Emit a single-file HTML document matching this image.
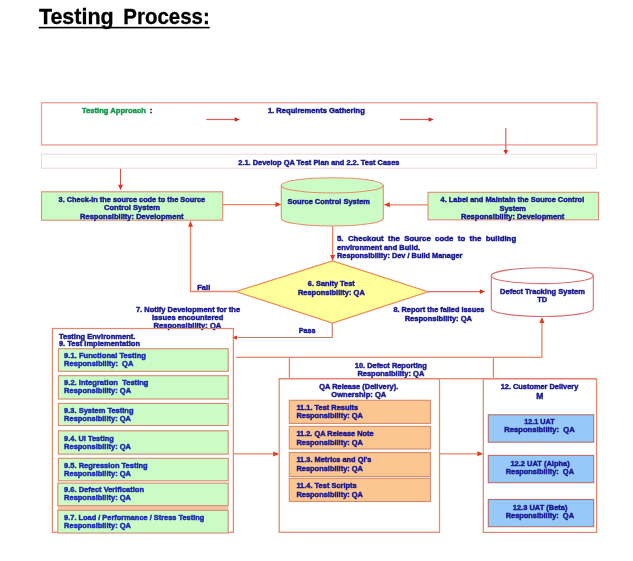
<!DOCTYPE html>
<html><head><meta charset="utf-8"><style>
html,body{margin:0;padding:0;background:#fff;width:633px;height:561px;overflow:hidden}
svg{display:block;will-change:transform}
text{font-family:"Liberation Sans",sans-serif;font-weight:bold;font-size:8.0px;fill:#1a1a92;stroke:#1a1a92;stroke-width:0.5}
</style></head><body>
<svg width="633" height="561" viewBox="0 0 633 561">
<text x="38.9" y="24.3" textLength="74.8" lengthAdjust="spacingAndGlyphs" style="font-size:22.4px;fill:#000;stroke:#000;stroke-width:0.3">Testing</text>
<text x="123.3" y="24.3" textLength="86.5" lengthAdjust="spacingAndGlyphs" style="font-size:22.4px;fill:#000;stroke:#000;stroke-width:0.3">Process:</text>
<rect x="38.7" y="26.8" width="171" height="1.6" fill="#000"/>
<rect x="41.5" y="102.7" width="555.50" height="42.20" fill="none" stroke="#f29a96" stroke-width="1.3"/>
<text x="82.00" y="113.26" textLength="63.80" lengthAdjust="spacingAndGlyphs" style="fill:#1a9a50;stroke:#1a9a50" xml:space="preserve">Testing Approach</text>
<text x="149.80" y="113.26" textLength="2.49" lengthAdjust="spacingAndGlyphs" style="fill:#222;stroke:#222" xml:space="preserve">:</text>
<text x="267.90" y="113.26" textLength="97.00" lengthAdjust="spacingAndGlyphs" xml:space="preserve">1. Requirements Gathering</text>
<polyline points="206.3,119.5 235,119.5" fill="none" stroke="#cc6060" stroke-width="1.2"/>
<polygon points="239.90,119.50 234.70,117.20 234.70,121.80" fill="#e02420"/>
<polyline points="400,119.5 429,119.5" fill="none" stroke="#cc6060" stroke-width="1.2"/>
<polygon points="433.80,119.50 428.60,117.20 428.60,121.80" fill="#e02420"/>
<polyline points="505.8,127.9 505.8,150" fill="none" stroke="#cc6a6a" stroke-width="1.2"/>
<polygon points="505.80,155.10 503.50,149.90 508.10,149.90" fill="#e02c1a"/>
<rect x="41.5" y="154.2" width="555.00" height="14.00" fill="none" stroke="#ecd6d2" stroke-width="1"/>
<text x="238.30" y="164.86" textLength="161.20" lengthAdjust="spacingAndGlyphs" xml:space="preserve">2.1. Develop QA Test Plan and 2.2. Test Cases</text>
<polyline points="120.5,168.8 120.5,186" fill="none" stroke="#c85848" stroke-width="1.1"/>
<polygon points="120.50,190.00 118.00,184.80 123.00,184.80" fill="#e0301a"/>
<rect x="41.5" y="191.8" width="181.20" height="28.40" fill="#cbfcc6" stroke="#e08c74" stroke-width="1.1"/>
<text x="58.60" y="202.26" textLength="146.60" lengthAdjust="spacingAndGlyphs" xml:space="preserve">3. Check-in the source code to the Source</text>
<text x="104.00" y="210.36" textLength="56.00" lengthAdjust="spacingAndGlyphs" xml:space="preserve">Control System</text>
<text x="80.00" y="218.86" textLength="103.50" lengthAdjust="spacingAndGlyphs" xml:space="preserve">Responsibility: Development</text>
<rect x="428" y="192.3" width="170.50" height="27.50" fill="#cbfcc6" stroke="#e08c74" stroke-width="1.1"/>
<text x="440.60" y="202.26" textLength="143.60" lengthAdjust="spacingAndGlyphs" xml:space="preserve">4. Label and Maintain the Source Control</text>
<text x="499.50" y="210.76" textLength="26.50" lengthAdjust="spacingAndGlyphs" xml:space="preserve">System</text>
<text x="461.00" y="219.26" textLength="103.30" lengthAdjust="spacingAndGlyphs" xml:space="preserve">Responsibility: Development</text>
<polyline points="222.7,204.6 276,204.6" fill="none" stroke="#ea8464" stroke-width="1.3"/>
<polygon points="281.40,204.60 275.40,202.10 275.40,207.10" fill="#e03c1c"/>
<polyline points="428,204.8 389,204.8" fill="none" stroke="#ea8464" stroke-width="1.3"/>
<polygon points="383.80,204.80 389.80,202.30 389.80,207.30" fill="#e03c1c"/>
<path d="M281.3,185.4 L281.3,218.5 A51,7.5 0 0 0 383.3,218.5 L383.3,185.4 A51,7.6 0 0 0 281.3,185.4 Z" fill="#cbfcc6" stroke="#e8906a" stroke-width="1.1"/>
<path d="M281.3,185.4 A51,7.6 0 0 0 383.3,185.4" fill="none" stroke="#e8906a" stroke-width="1.1"/>
<text x="287.50" y="204.06" textLength="82.50" lengthAdjust="spacingAndGlyphs" xml:space="preserve">Source Control System</text>
<polyline points="332.6,226 332.6,255.5" fill="none" stroke="#ea8464" stroke-width="1.3"/>
<polygon points="332.60,261.00 330.10,255.00 335.10,255.00" fill="#e03c1c"/>
<text x="337.00" y="241.46" textLength="179.20" lengthAdjust="spacingAndGlyphs" xml:space="preserve">5.  Checkout  the  Source  code  to  the  building</text>
<text x="337.00" y="249.96" textLength="83.11" lengthAdjust="spacingAndGlyphs" xml:space="preserve">environment and Build.</text>
<text x="337.00" y="258.46" textLength="125.40" lengthAdjust="spacingAndGlyphs" xml:space="preserve">Responsibility: Dev / Build Manager</text>
<polygon points="236,291.5 332.5,261 428,291.8 332.5,323" fill="#ffff99" stroke="#ec8a58" stroke-width="1.2"/>
<text x="307.80" y="285.86" textLength="46.90" lengthAdjust="spacingAndGlyphs" xml:space="preserve">6. Sanity Test</text>
<text x="297.90" y="294.56" textLength="66.90" lengthAdjust="spacingAndGlyphs" xml:space="preserve">Responsibility: QA</text>
<polyline points="236,291.5 190.5,291.5 190.5,226" fill="none" stroke="#ea8464" stroke-width="1.3"/>
<polygon points="190.50,220.70 188.00,226.70 193.00,226.70" fill="#e03c1c"/>
<text x="197.20" y="289.86" textLength="13.10" lengthAdjust="spacingAndGlyphs" xml:space="preserve">Fail</text>
<polyline points="332.3,323 332.3,337.5 236,337.5" fill="none" stroke="#c8806e" stroke-width="1.2"/>
<polygon points="232.00,337.60 237.00,335.40 237.00,339.80" fill="#e03c1c"/>
<text x="298.80" y="332.86" textLength="16.80" lengthAdjust="spacingAndGlyphs" xml:space="preserve">Pass</text>
<polyline points="428,291.6 480,291.6" fill="none" stroke="#d46a6a" stroke-width="1.2"/>
<polygon points="485.00,291.60 479.80,289.20 479.80,294.00" fill="#e02a1a"/>
<path d="M491.3,275.7 L491.3,308.5 A51,8 0 0 0 593.3,308.5 L593.3,275.7 A51,7.9 0 0 0 491.3,275.7 Z" fill="#fff" stroke="#dc6e70" stroke-width="1.1"/>
<path d="M491.3,275.7 A51,7.9 0 0 0 593.3,275.7" fill="none" stroke="#dc6e70" stroke-width="1.1"/>
<text x="500.00" y="293.66" textLength="85.00" lengthAdjust="spacingAndGlyphs" xml:space="preserve">Defect Tracking System</text>
<text x="537.31" y="301.86" textLength="9.97" lengthAdjust="spacingAndGlyphs" xml:space="preserve">TD</text>
<text x="135.90" y="311.56" textLength="104.20" lengthAdjust="spacingAndGlyphs" xml:space="preserve">7. Notify Development for the</text>
<text x="152.00" y="319.96" textLength="71.30" lengthAdjust="spacingAndGlyphs" xml:space="preserve">Issues encountered</text>
<text x="153.60" y="328.16" textLength="67.70" lengthAdjust="spacingAndGlyphs" xml:space="preserve">Responsibility: QA</text>
<text x="393.40" y="311.96" textLength="90.90" lengthAdjust="spacingAndGlyphs" xml:space="preserve">8. Report the failed Issues</text>
<text x="404.70" y="320.56" textLength="67.30" lengthAdjust="spacingAndGlyphs" xml:space="preserve">Responsibility: QA</text>
<polyline points="236,357.4 541.9,357.4 541.9,322.5" fill="none" stroke="#ea8464" stroke-width="1.3"/>
<polygon points="541.90,317.00 539.40,323.00 544.40,323.00" fill="#e03c1c"/>
<polyline points="289.4,357.4 289.4,378.7" fill="none" stroke="#ea8464" stroke-width="1.3"/>
<polyline points="493.4,357.4 493.4,378.7" fill="none" stroke="#ea8464" stroke-width="1.3"/>
<polyline points="279.2,378.7 596.6,378.7" fill="none" stroke="#ea8464" stroke-width="1.3"/>
<text x="354.80" y="368.26" textLength="72.10" lengthAdjust="spacingAndGlyphs" xml:space="preserve">10. Defect Reporting</text>
<text x="357.40" y="375.76" textLength="66.90" lengthAdjust="spacingAndGlyphs" xml:space="preserve">Responsibility: QA</text>
<rect x="52.4" y="328.5" width="181.00" height="203.80" fill="none" stroke="#e2886e" stroke-width="1.25"/>
<text x="58.90" y="338.50" textLength="76.50" lengthAdjust="spacingAndGlyphs" xml:space="preserve">Testing Environment.</text>
<text x="58.90" y="346.30" textLength="81.10" lengthAdjust="spacingAndGlyphs" xml:space="preserve">9. Test Implementation</text>
<rect x="57.8" y="505.7" width="170.4" height="4.6" fill="#f6c4a4"/>
<rect x="58.4" y="348.7" width="169.80" height="22.60" fill="#cbfcc6" stroke="#d48a6c" stroke-width="1.1"/>
<rect x="58.4" y="375.7" width="169.80" height="23.30" fill="#cbfcc6" stroke="#d48a6c" stroke-width="1.1"/>
<rect x="58.4" y="403.4" width="169.80" height="22.10" fill="#cbfcc6" stroke="#d48a6c" stroke-width="1.1"/>
<rect x="58.4" y="430.8" width="169.80" height="23.30" fill="#cbfcc6" stroke="#d48a6c" stroke-width="1.1"/>
<rect x="58.4" y="458.3" width="169.80" height="22.50" fill="#cbfcc6" stroke="#d48a6c" stroke-width="1.1"/>
<rect x="57.8" y="483.1" width="170.40" height="22.60" fill="#cbfcc6" stroke="#d48a6c" stroke-width="1.1"/>
<rect x="57.8" y="510.3" width="170.40" height="22.70" fill="#cbfcc6" stroke="#d48a6c" stroke-width="1.1"/>
<text x="64.10" y="358.00" textLength="81.90" lengthAdjust="spacingAndGlyphs" style="fill:#1d2ab2;stroke:#1d2ab2" xml:space="preserve">9.1. Functional Testing</text>
<text x="64.10" y="366.00" textLength="69.30" lengthAdjust="spacingAndGlyphs" style="fill:#1d2ab2;stroke:#1d2ab2" xml:space="preserve">Responsibility:  QA</text>
<text x="64.10" y="385.30" textLength="84.40" lengthAdjust="spacingAndGlyphs" style="fill:#1d2ab2;stroke:#1d2ab2" xml:space="preserve">9.2. Integration  Testing</text>
<text x="64.10" y="393.30" textLength="67.00" lengthAdjust="spacingAndGlyphs" style="fill:#1d2ab2;stroke:#1d2ab2" xml:space="preserve">Responsibility: QA</text>
<text x="64.10" y="413.10" textLength="69.40" lengthAdjust="spacingAndGlyphs" style="fill:#1d2ab2;stroke:#1d2ab2" xml:space="preserve">9.3. System Testing</text>
<text x="64.10" y="421.10" textLength="66.80" lengthAdjust="spacingAndGlyphs" style="fill:#1d2ab2;stroke:#1d2ab2" xml:space="preserve">Responsibility: QA</text>
<text x="64.10" y="440.60" textLength="49.70" lengthAdjust="spacingAndGlyphs" style="fill:#1d2ab2;stroke:#1d2ab2" xml:space="preserve">9.4. UI Testing</text>
<text x="64.10" y="448.60" textLength="66.80" lengthAdjust="spacingAndGlyphs" style="fill:#1d2ab2;stroke:#1d2ab2" xml:space="preserve">Responsibility: QA</text>
<text x="64.10" y="468.10" textLength="83.60" lengthAdjust="spacingAndGlyphs" style="fill:#1d2ab2;stroke:#1d2ab2" xml:space="preserve">9.5. Regression Testing</text>
<text x="64.10" y="476.10" textLength="66.80" lengthAdjust="spacingAndGlyphs" style="fill:#1d2ab2;stroke:#1d2ab2" xml:space="preserve">Responsibility: QA</text>
<text x="64.10" y="492.40" textLength="79.90" lengthAdjust="spacingAndGlyphs" style="fill:#1d2ab2;stroke:#1d2ab2" xml:space="preserve">9.6. Defect Verification</text>
<text x="64.10" y="500.40" textLength="66.80" lengthAdjust="spacingAndGlyphs" style="fill:#1d2ab2;stroke:#1d2ab2" xml:space="preserve">Responsibility: QA</text>
<text x="64.10" y="520.20" textLength="140.20" lengthAdjust="spacingAndGlyphs" style="fill:#1d2ab2;stroke:#1d2ab2" xml:space="preserve">9.7. Load / Performance / Stress Testing</text>
<text x="64.10" y="528.20" textLength="66.80" lengthAdjust="spacingAndGlyphs" style="fill:#1d2ab2;stroke:#1d2ab2" xml:space="preserve">Responsibility: QA</text>
<polyline points="233.5,453.9 273.5,453.9" fill="none" stroke="#ea8464" stroke-width="1.3"/>
<polygon points="279.20,453.90 273.20,451.40 273.20,456.40" fill="#e03c1c"/>
<rect x="279.2" y="378.7" width="160.30" height="153.60" fill="none" stroke="#e2886e" stroke-width="1.25"/>
<text x="319.20" y="388.60" textLength="79.10" lengthAdjust="spacingAndGlyphs" xml:space="preserve">QA Release (Delivery).</text>
<text x="331.30" y="397.20" textLength="54.90" lengthAdjust="spacingAndGlyphs" xml:space="preserve">Ownership: QA</text>
<rect x="289.3" y="400.3" width="141.20" height="23.10" fill="#fcc690" stroke="#d48a6c" stroke-width="1.1"/>
<rect x="289.3" y="426.4" width="141.20" height="22.60" fill="#fcc690" stroke="#d48a6c" stroke-width="1.1"/>
<rect x="289.3" y="452.5" width="141.20" height="24.00" fill="#fcc690" stroke="#d48a6c" stroke-width="1.1"/>
<rect x="289.3" y="478.3" width="141.20" height="23.20" fill="#fcc690" stroke="#d48a6c" stroke-width="1.1"/>
<text x="296.40" y="409.80" textLength="61.80" lengthAdjust="spacingAndGlyphs" xml:space="preserve">11.1. Test Results</text>
<text x="296.40" y="418.10" textLength="66.60" lengthAdjust="spacingAndGlyphs" xml:space="preserve">Responsibility: QA</text>
<text x="296.40" y="436.20" textLength="77.30" lengthAdjust="spacingAndGlyphs" xml:space="preserve">11.2. QA Release Note</text>
<text x="296.40" y="444.50" textLength="66.60" lengthAdjust="spacingAndGlyphs" xml:space="preserve">Responsibility: QA</text>
<text x="296.40" y="462.40" textLength="75.00" lengthAdjust="spacingAndGlyphs" xml:space="preserve">11.3. Metrics and QI's</text>
<text x="296.40" y="470.70" textLength="66.60" lengthAdjust="spacingAndGlyphs" xml:space="preserve">Responsibility: QA</text>
<text x="296.40" y="488.20" textLength="60.30" lengthAdjust="spacingAndGlyphs" xml:space="preserve">11.4. Test Scripts</text>
<text x="296.40" y="496.50" textLength="66.60" lengthAdjust="spacingAndGlyphs" xml:space="preserve">Responsibility: QA</text>
<polyline points="439.5,453.8 477.5,453.8" fill="none" stroke="#ea8464" stroke-width="1.3"/>
<polygon points="483.30,453.80 477.30,451.30 477.30,456.30" fill="#e03c1c"/>
<rect x="483.3" y="378.8" width="113.30" height="153.60" fill="none" stroke="#e2886e" stroke-width="1.25"/>
<text x="500.70" y="389.26" textLength="77.60" lengthAdjust="spacingAndGlyphs" xml:space="preserve">12. Customer Delivery</text>
<text x="536.30" y="399.20" textLength="7.10" lengthAdjust="spacingAndGlyphs" style="font-size:9px" xml:space="preserve">M</text>
<rect x="488.3" y="414.8" width="105.40" height="27.40" fill="#96c8f8" stroke="#b87070" stroke-width="1.1"/>
<rect x="488.3" y="455.4" width="105.40" height="27.30" fill="#96c8f8" stroke="#b87070" stroke-width="1.1"/>
<rect x="488.3" y="499.5" width="105.40" height="27.20" fill="#96c8f8" stroke="#b87070" stroke-width="1.1"/>
<text x="524.20" y="424.10" textLength="30.50" lengthAdjust="spacingAndGlyphs" xml:space="preserve">12.1 UAT</text>
<text x="504.20" y="432.30" textLength="70.50" lengthAdjust="spacingAndGlyphs" xml:space="preserve">Responsibility:  QA</text>
<text x="510.40" y="465.70" textLength="59.30" lengthAdjust="spacingAndGlyphs" xml:space="preserve">12.2 UAT (Alpha)</text>
<text x="505.70" y="474.20" textLength="68.30" lengthAdjust="spacingAndGlyphs" xml:space="preserve">Responsibility:  QA</text>
<text x="512.80" y="509.80" textLength="54.70" lengthAdjust="spacingAndGlyphs" xml:space="preserve">12.3 UAT (Beta)</text>
<text x="505.70" y="518.00" textLength="68.30" lengthAdjust="spacingAndGlyphs" xml:space="preserve">Responsibility:  QA</text>
</svg>
</body></html>
